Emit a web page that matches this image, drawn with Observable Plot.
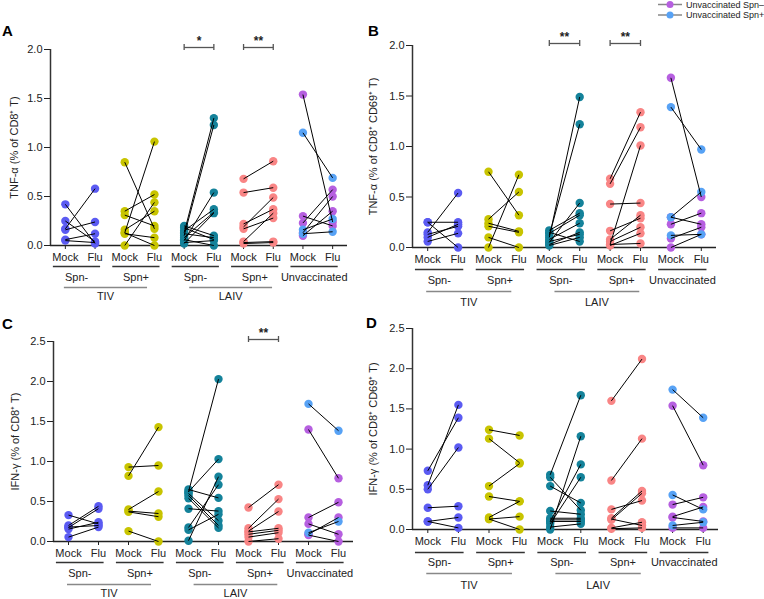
<!DOCTYPE html>
<html><head><meta charset="utf-8">
<script src="https://cdn.jsdelivr.net/npm/d3@7"></script>
<script src="https://cdn.jsdelivr.net/npm/@observablehq/plot@0.6"></script>
<style>
body{margin:0;background:#fff;font-family:"Liberation Sans",Arial,sans-serif;}
#wrap{position:relative;width:764px;height:599px;overflow:hidden;background:#fff}
.panel{position:absolute}
.letter{position:absolute;font-weight:bold;font-size:15px;line-height:15px;color:#000}
</style></head><body><div id="wrap"></div>
<script>
// ---------- categories / labels ----------
const vaccines = ["TIV", "LAIV"];
const subgroups = ["Spn-", "Spn+", "Spn-", "Spn+", "Unvaccinated"];
const tickLabels = ["Mock", "Flu"];
const legendLabels = ["Unvaccinated Spn–", "Unvaccinated Spn+"];
const seriesGroup = [0, 1, 2, 3, 4, 4]; // TIV Spn-, TIV Spn+, LAIV Spn-, LAIV Spn+, Unvacc Spn-, Unvacc Spn+
const colors = ["#5b5bf2", "#c8c400", "#14829a", "#f98585", "#b65fe0", "#57a2f5"];

// ---------- Panel A: TNF-α (% of CD8+ T)  [mock, flu] per subject ----------
const A_tivNeg = [[0.42,0.02],[0.25,0.04],[0.17,0.58],[0.16,0.24],[0.06,0.12],[0.05,0.03]];
const A_tivPos = [[0.85,0.17],[0.35,0.52],[0.31,0.20],[0.16,0.35],[0.13,1.06],[0.12,0.08],[0.00,0.44],[0.13,0.00]];
const A_laivNeg = [[0.13,1.30],[0.10,1.23],[0.05,0.54],[0.15,0.37],[0.08,0.34],[0.02,0.33],[0.20,0.10],[0.18,0.06],[0.12,0.08],[0.06,0.00],[0.03,0.05]];
const A_laivPos = [[0.68,0.86],[0.54,0.59],[0.22,0.37],[0.19,0.49],[0.17,0.28],[0.04,0.33],[0.03,0.04],[0.02,0.03]];
const A_unvNeg = [[1.54,0.24],[0.30,0.20],[0.23,0.57],[0.13,0.50],[0.10,0.35]];
const A_unvPos = [[1.15,0.69],[0.16,0.27],[0.12,0.14]];
const A_sig = [{g: 2, s: "*"}, {g: 3, s: "**"}];

// ---------- Panel B: TNF-α (% of CD8+ CD69+ T) ----------
const B_tivNeg = [[0.25,0.25],[0.25,0.00],[0.15,0.54],[0.13,0.21],[0.10,0.23],[0.06,0.14]];
const B_tivPos = [[0.75,0.32],[0.00,0.72],[0.28,0.55],[0.24,0.16],[0.21,0.15],[0.10,0.00]];
const B_laivNeg = [[0.10,1.49],[0.12,1.22],[0.05,0.44],[0.17,0.34],[0.14,0.32],[0.08,0.24],[0.03,0.15],[0.06,0.13],[0.02,0.10],[0.15,0.06]];
const B_laivPos = [[0.68,1.34],[0.63,1.19],[0.03,1.01],[0.43,0.44],[0.165,0.29],[0.08,0.32],[0.06,0.20],[0.02,0.14],[0.03,0.04]];
const B_unvNeg = [[1.68,0.50],[0.30,0.23],[0.23,0.34],[0.09,0.20],[0.00,0.13]];
const B_unvPos = [[1.39,0.97],[0.30,0.55],[0.12,0.13]];
const B_sig = [{g: 2, s: "**"}, {g: 3, s: "**"}];

// ---------- Panel C: IFN-γ (% of CD8+ T) ----------
const C_tivNeg = [[0.33,0.22],[0.20,0.44],[0.175,0.41],[0.155,0.24],[0.18,0.20],[0.055,0.18]];
const C_tivPos = [[0.93,0.95],[0.82,1.43],[0.40,0.625],[0.38,0.35],[0.37,0.31],[0.13,0.00]];
const C_laivNeg = [[0.62,2.03],[0.62,1.03],[0.65,0.545],[0.60,0.26],[0.575,0.20],[0.41,0.38],[0.175,0.71],[0.145,0.34],[0.01,0.81],[0.54,0.17]];
const C_laivPos = [[0.425,0.71],[0.165,0.53],[0.13,0.375],[0.12,0.165],[0.09,0.14],[0.055,0.11],[0.00,0.035]];
const C_unvNeg = [[1.40,0.79],[0.30,0.49],[0.22,0.09],[0.09,0.30],[0.08,0.00]];
const C_unvPos = [[1.72,1.385],[0.11,0.25]];
const C_sig = [{g: 3, s: "**"}];

// ---------- Panel D: IFN-γ (% of CD8+ CD69+ T) ----------
const D_tivNeg = [[0.73,1.39],[0.55,1.55],[0.50,1.02],[0.27,0.29],[0.10,0.15],[0.10,0.02]];
const D_tivPos = [[1.24,1.17],[1.13,0.83],[0.54,0.82],[0.41,0.35],[0.15,0.35],[0.13,0.16],[0.13,0.00]];
const D_laivNeg = [[0.68,1.67],[0.00,1.16],[0.10,0.81],[0.07,0.65],[0.65,0.24],[0.54,0.33],[0.23,0.19],[0.14,0.14],[0.10,0.10],[0.03,0.07],[0.12,0.12]];
const D_laivPos = [[1.60,2.12],[0.61,1.13],[0.25,0.36],[0.14,0.48],[0.12,0.45],[0.13,0.05],[0.02,0.09],[0.01,0.02]];
const D_unvNeg = [[1.54,0.80],[0.31,0.40],[0.16,0.28],[0.15,0.10],[0.02,0.02]];
const D_unvPos = [[1.74,1.39],[0.43,0.25],[0.05,0.09]];
const D_sig = [];

// ---------- layout ----------
const FONT = "'Liberation Sans', Arial, Helvetica, sans-serif";
const vacSpan = [[-0.05, 2.75], [4.17, 6.96]];
const panels = [
  {letter: "A", lx: 2, ly: 23, left: 0, top: 0, w: 380, h: 310, mt: 49, mr: 33, mb: 65, ml: 50, ymax: 2.0, ldx: -36,
   label: "TNF-α (% of CD8⁺ T)", off: [21, 32, 42, 51],
   series: [A_tivNeg, A_tivPos, A_laivNeg, A_laivPos, A_unvNeg, A_unvPos], sig: A_sig},
  {letter: "B", lx: 368, ly: 23, left: 365, top: 0, w: 399, h: 310, mt: 45, mr: 48, mb: 63, ml: 47, ymax: 2.0, ldx: -39,
   label: "TNF-α (% of CD8⁺ CD69⁺ T)", off: [22, 33, 44, 55],
   series: [B_tivNeg, B_tivPos, B_laivNeg, B_laivPos, B_unvNeg, B_unvPos], sig: B_sig},
  {letter: "C", lx: 2, ly: 316, left: 0, top: 300, w: 380, h: 299, mt: 41, mr: 27, mb: 58, ml: 53, ymax: 2.5, ldx: -38,
   label: "IFN-γ (% of CD8⁺ T)", off: [21, 32, 43, 52],
   series: [C_tivNeg, C_tivPos, C_laivNeg, C_laivPos, C_unvNeg, C_unvPos], sig: C_sig},
  {letter: "D", lx: 366, ly: 315, left: 365, top: 300, w: 399, h: 299, mt: 28, mr: 46, mb: 70, ml: 47, ymax: 2.5, ldx: -39,
   label: "IFN-γ (% of CD8⁺ CD69⁺ T)", off: [23, 33, 44, 56],
   series: [D_tivNeg, D_tivPos, D_laivNeg, D_laivPos, D_unvNeg, D_unvPos], sig: D_sig}
];

const wrap = document.getElementById("wrap");

function drawPanel(p) {
  const recs = [];
  p.series.forEach((pairs, k) => pairs.forEach(([m, f]) =>
    recs.push({x1: seriesGroup[k] * 2, x2: seriesGroup[k] * 2 + 1, m, f, c: colors[k]})));
  const dots = recs.flatMap(r => [{x: r.x1, v: r.m, c: r.c}, {x: r.x2, v: r.f, c: r.c}]);
  const sub = subgroups.map((s, g) => ({g, s}));
  const vac = vaccines.map((v, j) => ({v, a: vacSpan[j][0], b: vacSpan[j][1]}));
  const yticks = d3.range(0, p.ymax + 1e-9, 0.5);
  const ends = p.sig.flatMap(d => [d.g * 2, d.g * 2 + 1]);
  const plot = Plot.plot({
    width: p.w, height: p.h,
    marginTop: p.mt, marginRight: p.mr, marginBottom: p.mb, marginLeft: p.ml,
    style: {fontFamily: FONT, fontSize: "11px", color: "#222", background: "transparent", overflow: "visible"},
    x: {type: "linear", domain: [-0.5, 9.5], axis: null},
    y: {type: "linear", domain: [0, p.ymax], axis: null},
    color: {type: "identity"},
    marks: [
      Plot.axisY({ticks: yticks, tickFormat: d3.format(".1f"), tickSize: 6, tickPadding: 2, label: null, fontSize: 11}),
      Plot.ruleX([-0.5], {y1: 0, y2: p.ymax, stroke: "#333", strokeWidth: 1.5}),
      Plot.ruleY([0], {stroke: "#222", strokeWidth: 1.5}),
      Plot.axisX({ticks: d3.range(10), tickSize: 4, tickPadding: 4, tickFormat: i => tickLabels[i % 2], label: null, fontSize: 11}),
      Plot.link(sub, {x1: d => d.g * 2 - 0.42, x2: d => d.g * 2 + 1.17, y1: 0, y2: 0, dy: p.off[0], stroke: "#333", strokeWidth: 1.3}),
      Plot.text(sub, {x: d => d.g * 2 + 0.38, frameAnchor: "bottom", dy: p.off[1], text: "s", lineAnchor: "middle", fontSize: 11}),
      Plot.link(vac, {x1: "a", x2: "b", y1: 0, y2: 0, dy: p.off[2], stroke: "#888", strokeWidth: 1.5}),
      Plot.text(vac, {x: d => (d.a + d.b) / 2, frameAnchor: "bottom", dy: p.off[3], text: "v", lineAnchor: "middle", fontSize: 11}),
      Plot.link(p.sig, {x1: d => d.g * 2, x2: d => d.g * 2 + 1, y1: p.ymax, y2: p.ymax, dy: -2, stroke: "#555", strokeWidth: 1.3}),
      Plot.ruleX(ends, {y1: p.ymax, y2: p.ymax, insetTop: -3, insetBottom: -3, dy: -2, stroke: "#555", strokeWidth: 1.3}),
      Plot.text(p.sig, {x: d => d.g * 2 + 0.5, y: p.ymax, dy: -8, text: "s", fontWeight: "bold", fontSize: 12, lineAnchor: "middle"}),
      Plot.dot(dots, {x: "x", y: "v", r: 4.2, fill: "c"}),
      Plot.link(recs, {x1: "x1", y1: "m", x2: "x2", y2: "f", stroke: "#000", strokeWidth: 1}),
      Plot.text([p.label], {text: d => d, frameAnchor: "left", dx: p.ldx, rotate: -90, textAnchor: "middle", lineAnchor: "middle", fontSize: 11})
    ]
  });
  const div = document.createElement("div");
  div.className = "panel";
  div.style.left = p.left + "px";
  div.style.top = p.top + "px";
  div.style.width = p.w + "px";
  div.style.height = p.h + "px";
  div.appendChild(plot);
  wrap.appendChild(div);
  const L = document.createElement("div");
  L.className = "letter";
  L.style.left = p.lx + "px";
  L.style.top = p.ly + "px";
  L.textContent = p.letter;
  wrap.appendChild(L);
}

panels.forEach(drawPanel);

// legend (top right)
const leg = d3.select(wrap).append("svg")
  .attr("width", 112).attr("height", 22)
  .style("position", "absolute").style("left", "654px").style("top", "0px")
  .style("font-family", FONT).style("font-size", "9px");
legendLabels.forEach((t, i) => {
  const g = leg.append("g").attr("transform", `translate(0,${4.5 + i * 10.5})`);
  g.append("line").attr("x1", 4).attr("x2", 28).attr("stroke", "#888").attr("stroke-width", 1.5);
  g.append("circle").attr("cx", 16).attr("r", 3.5).attr("fill", colors[4 + i]);
  g.append("text").attr("x", 32).attr("dy", "0.35em").attr("fill", "#222").text(t);
});
</script>
</body></html>
